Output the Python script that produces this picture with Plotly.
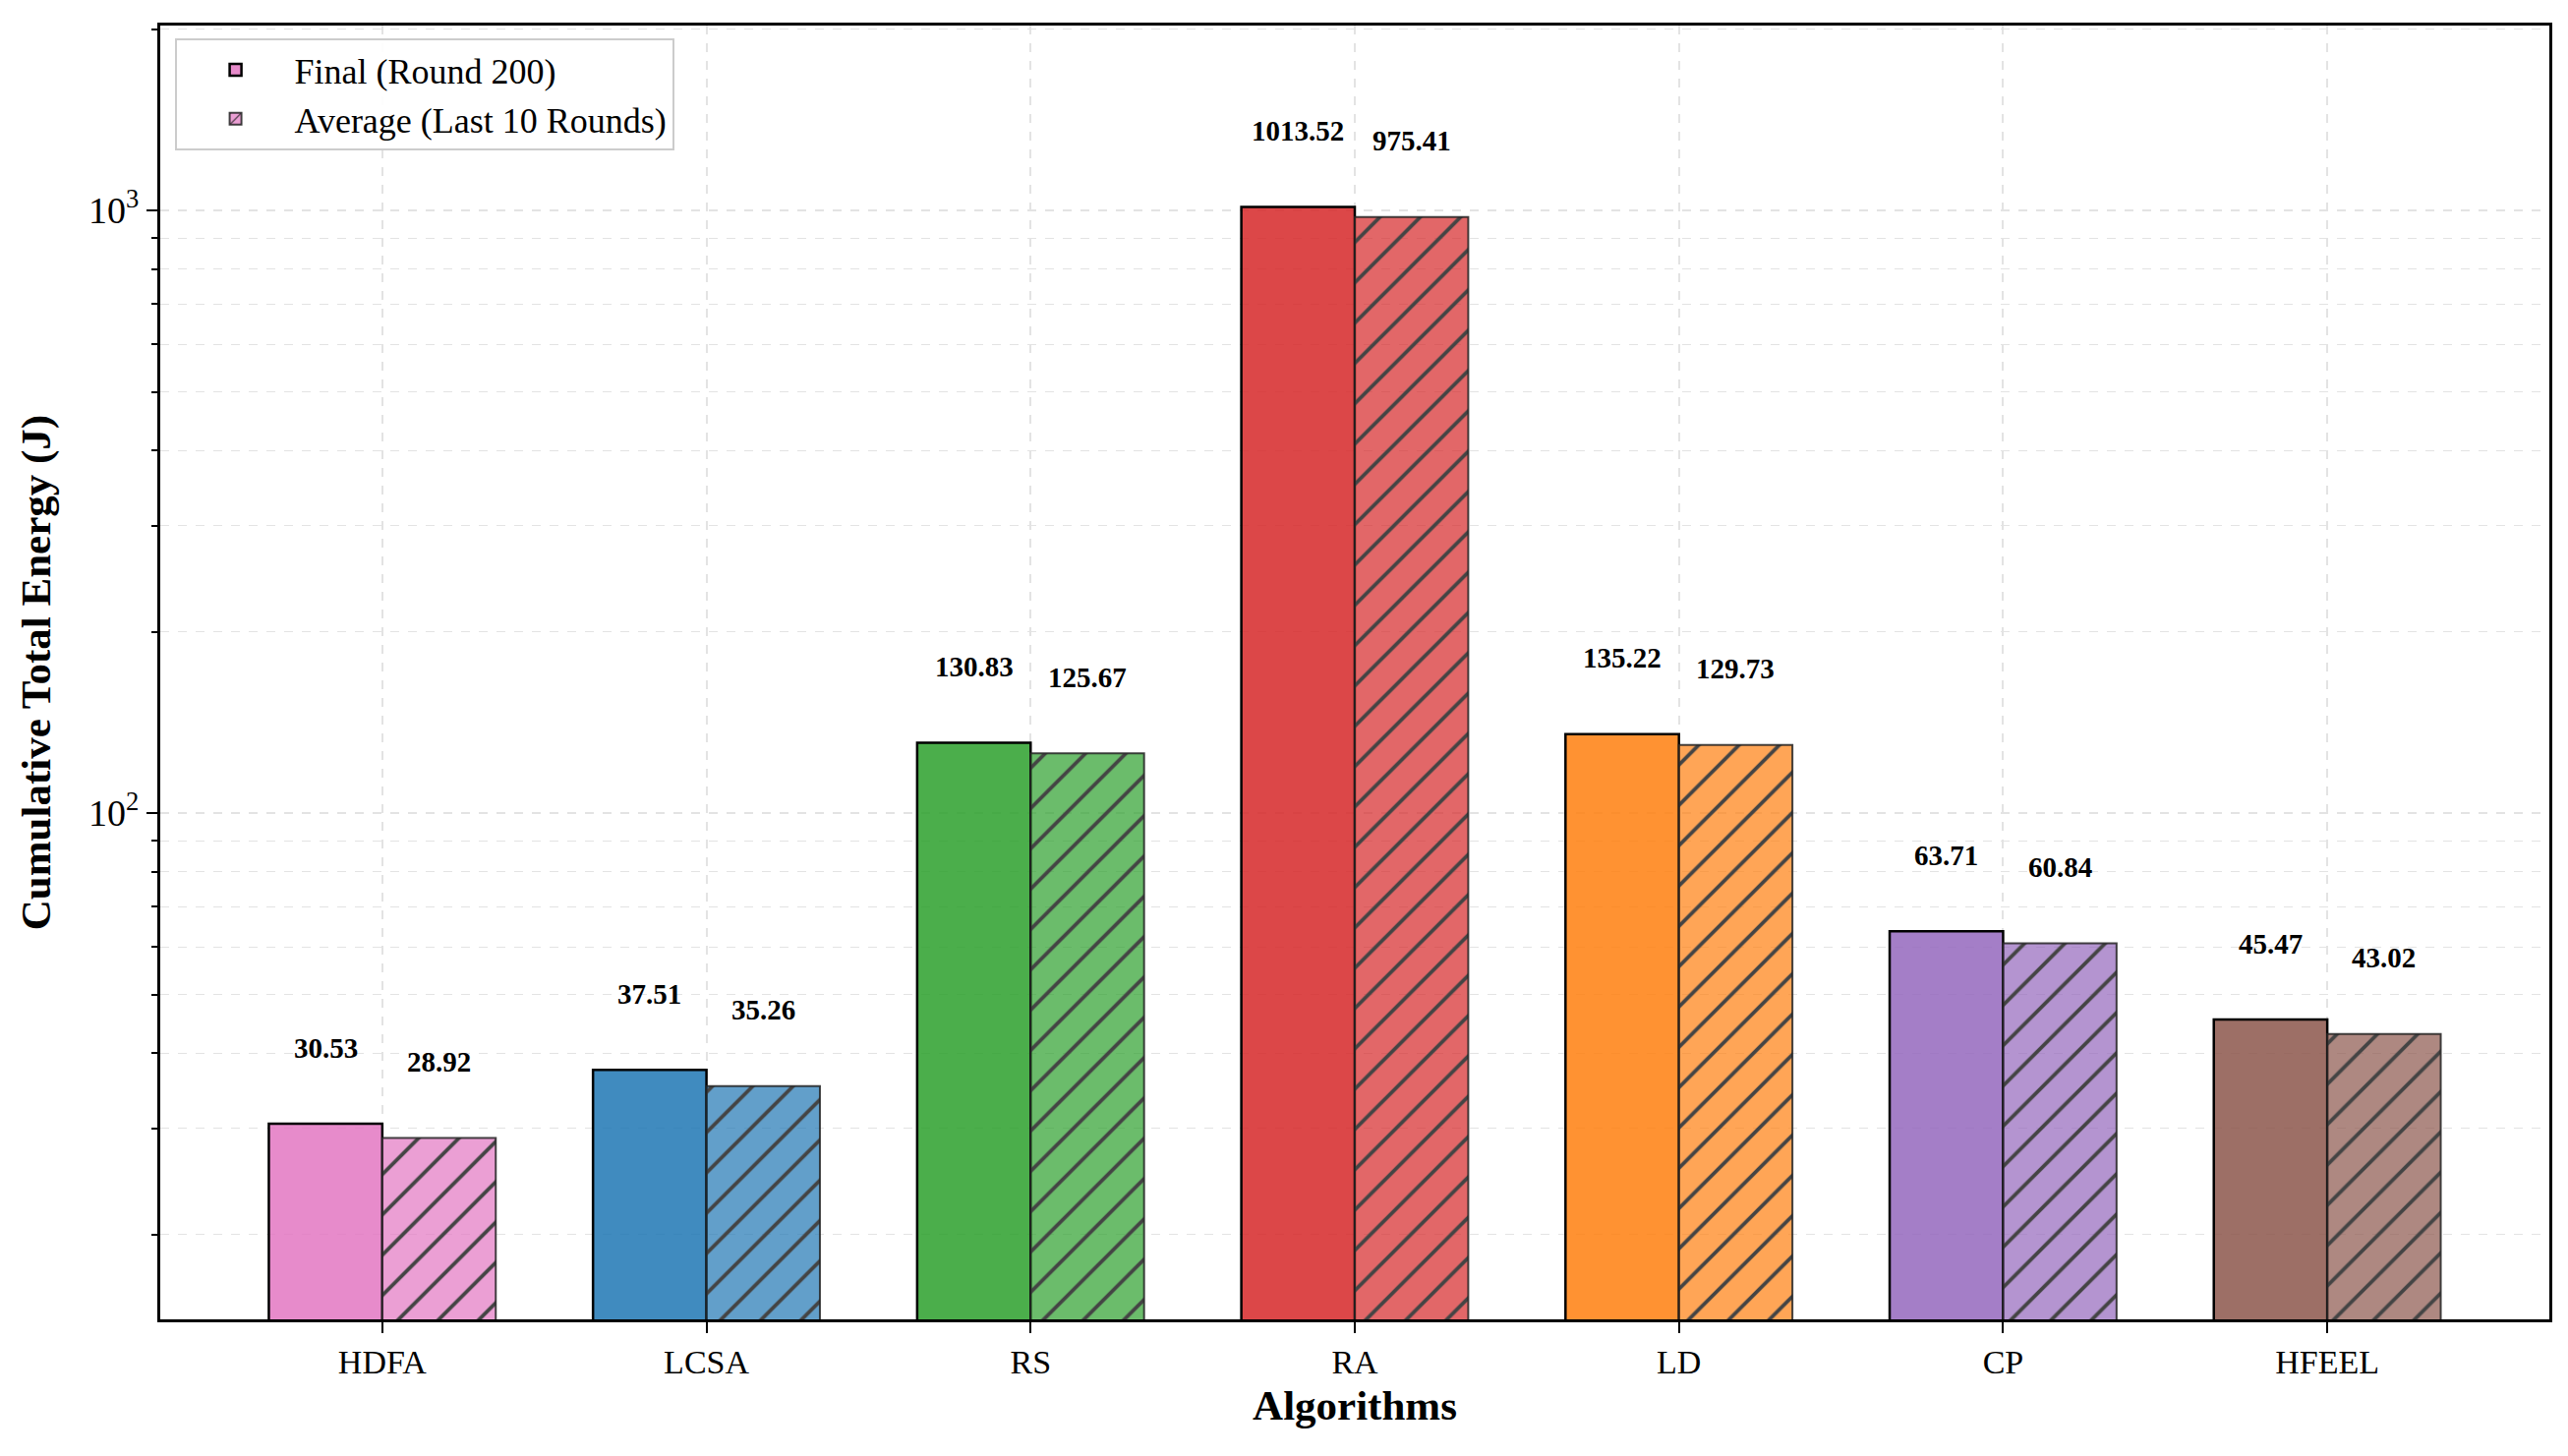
import math
import plotly.graph_objects as go

algorithms = ["HDFA", "LCSA", "RS", "RA", "LD", "CP", "HFEEL"]
final_round200 = [30.53, 37.51, 130.83, 1013.52, 135.22, 63.71, 45.47]
avg_last10 = [28.92, 35.26, 125.67, 975.41, 129.73, 60.84, 43.02]
base_colors = [(227, 119, 194), (31, 119, 180), (44, 160, 44), (214, 39, 40),
               (255, 127, 14), (148, 103, 189), (140, 86, 75)]

bar_w = 0.35
FONT = "Liberation Serif, Times New Roman, serif"

def rgba(c, a):
    return "rgba(%d,%d,%d,%.2f)" % (c[0], c[1], c[2], a)

x_idx = list(range(len(algorithms)))
x_final = [i - bar_w / 2 for i in x_idx]
x_avg = [i + bar_w / 2 for i in x_idx]

fig = go.Figure()
fig.add_trace(go.Bar(
    x=x_final, y=final_round200, width=bar_w,
    name="Final (Round 200)",
    marker=dict(color=[rgba(c, 0.85) for c in base_colors],
                line=dict(color="black", width=2.5)),
))
fig.add_trace(go.Bar(
    x=x_avg, y=avg_last10, width=bar_w,
    name="Average (Last 10 Rounds)",
    marker=dict(color=[rgba(c, 0.7) for c in base_colors],
                line=dict(color="rgba(35,35,35,0.85)", width=2),
                pattern=dict(shape="/", size=29, solidity=0.13,
                             fgcolor="#262226", fgopacity=1,
                             fillmode="overlay")),
))

annotations = []
for xs, vals in ((x_final, final_round200), (x_avg, avg_last10)):
    for xv, v in zip(xs, vals):
        annotations.append(dict(
            x=xv, y=math.log10(v * 1.25), xref="x", yref="y",
            text="%.2f" % v, showarrow=False, yanchor="bottom", xanchor="center",
            font=dict(family=FONT, size=29, color="black", weight="bold"),
        ))

all_vals = final_round200 + avg_last10
y_lo = min(all_vals) * 0.5
y_hi = max(all_vals) * 2
minor_vals = [d * 10 ** e for e in (1, 2, 3) for d in range(2, 10)
              if y_lo <= d * 10 ** e <= y_hi]

grid_col = "#e3e3e3"
fig.update_layout(
    width=2612, height=1481,
    margin=dict(l=155, r=27, t=18, b=147),
    paper_bgcolor="white", plot_bgcolor="white",
    font=dict(family=FONT, color="black"),
    barmode="overlay",
    annotations=annotations,
    showlegend=True,
    legend=dict(x=0.006, y=0.99, xanchor="left", yanchor="top",
                bgcolor="rgba(255,255,255,0.9)", bordercolor="#cccccc", borderwidth=2,
                font=dict(family=FONT, size=36, color="black"),
                itemwidth=110, tracegroupgap=6),
    xaxis=dict(
        range=[-bar_w - 0.335, len(algorithms) - 1 + bar_w + 0.335],
        tickmode="array", tickvals=x_idx, ticktext=algorithms,
        tickfont=dict(family=FONT, size=34, color="black"),
        ticks="outside", ticklen=11, tickwidth=2, tickcolor="black",
        showline=True, linecolor="black", linewidth=3, mirror=True,
        showgrid=True, gridcolor=grid_col, gridwidth=1.5, griddash="dash",
        zeroline=False,
        title=dict(text="<b>Algorithms</b>", font=dict(family=FONT, size=43, color="black"),
                   standoff=12),
    ),
    yaxis=dict(
        type="log", range=[math.log10(y_lo), math.log10(y_hi)],
        tickmode="array", tickvals=[100, 1000],
        ticktext=["10<sup>2</sup>", "10<sup>3</sup>"],
        tickfont=dict(family=FONT, size=38, color="black"),
        ticks="outside", ticklen=11, tickwidth=2, tickcolor="black",
        showline=True, linecolor="black", linewidth=3, mirror=True,
        showgrid=True, gridcolor=grid_col, gridwidth=1.5, griddash="dash",
        zeroline=False,
        minor=dict(tickmode="array", tickvals=minor_vals, ticks="outside",
                   ticklen=6, tickwidth=1.5, tickcolor="black",
                   showgrid=True, gridcolor=grid_col, gridwidth=1.2, griddash="dash"),
        title=dict(text="<b>Cumulative Total Energy (J)</b>",
                   font=dict(family=FONT, size=43, color="black"), standoff=26),
    ),
)

fig.write_html("out.html")
